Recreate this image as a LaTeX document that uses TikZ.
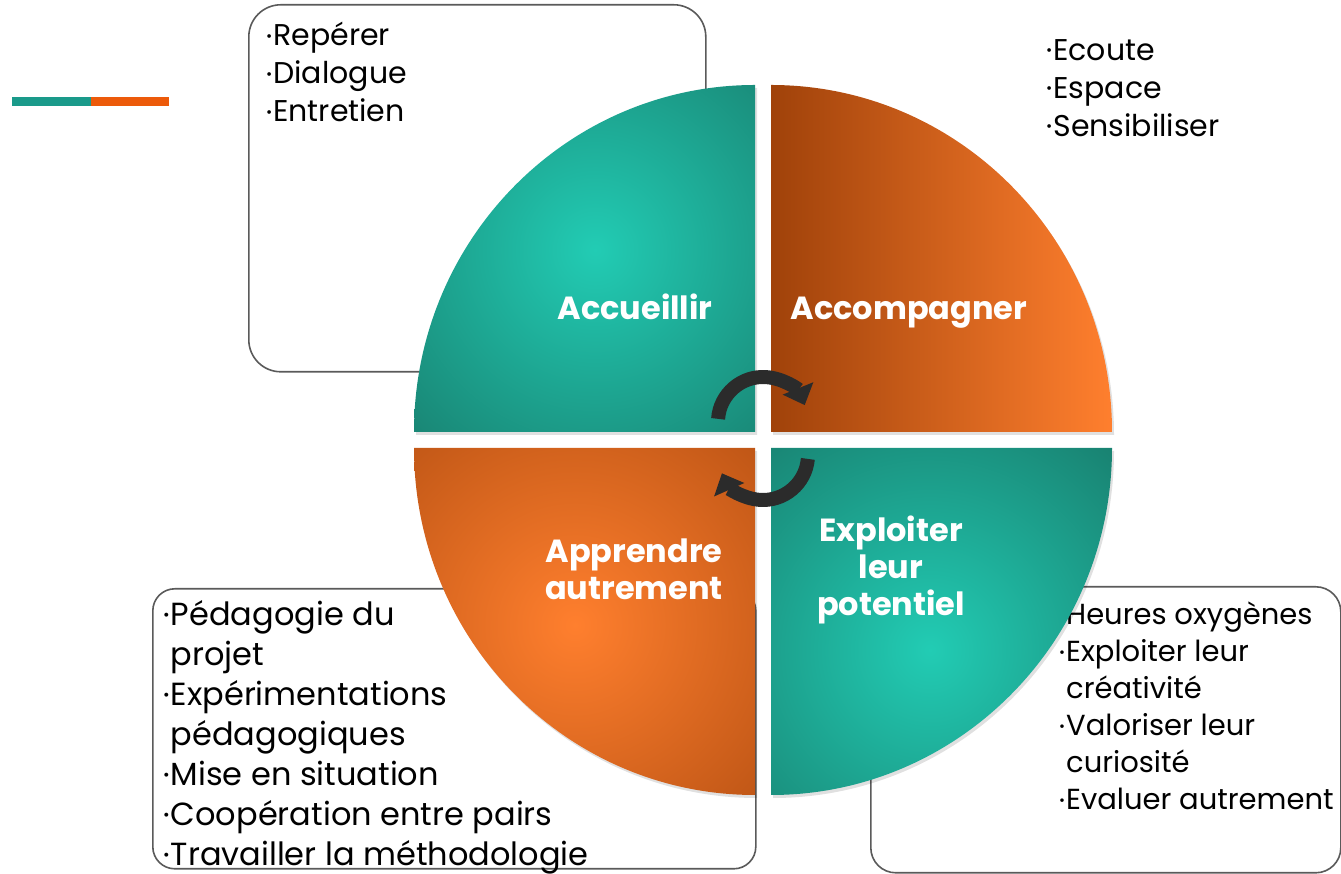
\documentclass[tikz,border=0pt]{standalone}
\usepackage{fontspec}
\setmainfont{Poppins}
\usetikzlibrary{arrows.meta}
\definecolor{tealB}{HTML}{22CCB4}
\definecolor{tealD}{HTML}{156557}
\definecolor{orB}{HTML}{FF7F2E}
\definecolor{orD}{HTML}{A0420A}
\definecolor{barT}{HTML}{1A9A8A}
\definecolor{barO}{HTML}{EC5A0A}
\definecolor{boxgray}{HTML}{5A5A5A}
\definecolor{arr}{HTML}{2B2B2B}
\newcommand\bu{\raisebox{0.14em}{\scalebox{0.5}{\textbullet}}\hspace{1pt}}
\newcommand\bi{\hphantom{\bu}}
\tikzset{
 listbox/.style={draw=boxgray, line width=1.6pt, fill=white, inner sep=0pt, anchor=north west},
 listtext/.style={anchor=north west, align=left, inner sep=0pt, text=black},
 qlabel/.style={text=white, align=center, inner sep=0pt, font=\bfseries\fontsize{32}{37}\selectfont},
 cyc/.style={line width=14pt, draw=arr, -{Triangle[width=32pt,length=18pt]}},
 barstyle/.style={anchor=north west, inner sep=0pt, minimum height=9pt},
 qshadow/.style={fill=black, opacity=0.12}
}
\begin{document}
\begin{tikzpicture}[x=1pt,y=1pt]
\useasboundingbox (0,0) rectangle (1341,874);
% legend bar
\node[barstyle, fill=barT, minimum width=79pt] (barA) at (12,777) {};
\node[barstyle, fill=barO, minimum width=78pt] (barB) at (91,777) {};
% boxes
\node[listbox, rounded corners=32pt, minimum width=457pt, minimum height=367pt] (b1) at (248,870) {};
\node[listbox, rounded corners=22pt, minimum width=603pt, minimum height=280pt] (b3) at (152,286) {};
\node[listbox, rounded corners=25pt, minimum width=470pt, minimum height=286pt] (b4) at (870,288) {};
% lists
\node[listtext, font=\fontsize{30}{38}\selectfont] (l1) at (266,852) {\bu Repérer\\ \bu Dialogue\\ \bu Entretien};
\node[listtext, font=\fontsize{30}{38}\selectfont] (l2) at (1046,835) {\bu Ecoute\\ \bu Espace\\ \bu Sensibiliser};
\node[listtext, font=\fontsize{32}{40}\selectfont] (l3) at (163,274) {\bu Pédagogie du\\ \bi projet\\ \bu Expérimentations\\ \bi pédagogiques\\ \bu Mise en situation\\ \bu Coopération entre pairs\\ \bu Travailler la méthodologie};
\node[listtext, font=\fontsize{29}{37}\selectfont] (l4) at (1059,272) {\bu Heures oxygènes\\ \bu Exploiter leur\\ \bi créativité\\ \bu Valoriser leur\\ \bi curiosité\\ \bu Evaluer autrement};
% shadows
\begin{scope}[shift={(2,-3)}]
\fill[qshadow] (755,442) -- (414,442) arc[start angle=180,end angle=90,x radius=341,y radius=347] -- cycle;
\fill[qshadow] (771,442) -- (771,789) arc[start angle=90,end angle=0,x radius=341,y radius=347] -- cycle;
\fill[qshadow] (755,426) -- (414,426) arc[start angle=180,end angle=270,x radius=341,y radius=347] -- cycle;
\fill[qshadow] (771,426) -- (1112,426) arc[start angle=0,end angle=-90,x radius=341,y radius=347] -- cycle;
\end{scope}
% quadrants
\begin{scope}
\clip (755,442) -- (414,442) arc[start angle=180,end angle=90,x radius=341,y radius=347] -- cycle;
\shade[inner color=tealB, outer color=tealD] (595,624) circle (380);
\end{scope}
\begin{scope}
\clip (771,442) -- (771,789) arc[start angle=90,end angle=0,x radius=341,y radius=347] -- cycle;
\shade[left color=orD, right color=orB] (771,442) rectangle (1112,789);
\end{scope}
\begin{scope}
\clip (755,426) -- (414,426) arc[start angle=180,end angle=270,x radius=341,y radius=347] -- cycle;
\shade[inner color=orB, outer color=orD] (575,249) circle (380);
\end{scope}
\begin{scope}
\clip (771,426) -- (1112,426) arc[start angle=0,end angle=-90,x radius=341,y radius=347] -- cycle;
\shade[inner color=tealB, outer color=tealD] (930,224) circle (380);
\end{scope}
% labels
\node[qlabel, anchor=base] (q1) at (635,554) {Accueillir};
\node[qlabel, anchor=base] (q2) at (909,554) {Accompagner};
\node[qlabel] (q3) at (634,305) {Apprendre\\autrement};
\node[qlabel] (q4) at (891,304) {Exploiter\\leur\\potentiel};
% cycle arrows
\draw[cyc] (763,452) ++(176:45) arc[start angle=176,end angle=22,radius=45];
\draw[cyc] (763,419) ++(-5:45) arc[start angle=-5,end angle=-156,radius=45];
\end{tikzpicture}
\end{document}
